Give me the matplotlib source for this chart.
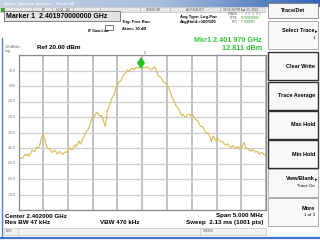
import matplotlib
matplotlib.use('Agg')
import matplotlib.pyplot as plt
import numpy as np
from matplotlib.patches import Rectangle
from matplotlib.transforms import offset_copy
from matplotlib.colors import LinearSegmentedColormap

# ---------------- data ----------------
center_ghz = 2.402
span_mhz = 5.0
ref_dbm = 20.0
db_per_div = 10.0
n_div = 10
trace_dbm = [
    -47.5, -46.2, -46.5, -46.8, -45.5, -44.2, -44.8, -43.8, -45.2, -44.6,
    -43.0, -41.5, -41.8, -42.6, -40.5, -39.2, -40.0, -38.8, -35.0, -32.5,
    -31.0, -33.8, -37.0, -39.5, -40.5, -40.2, -41.5, -42.8, -42.5, -41.5,
    -42.0, -43.8, -43.5, -42.2, -42.8, -43.9, -44.0, -42.8, -42.5, -42.9,
    -41.5, -40.2, -40.0, -41.2, -40.5, -38.6, -38.0, -38.9, -36.8, -35.6,
    -37.5, -36.0, -33.5, -32.8, -31.0, -29.0, -28.5, -27.0, -24.0, -21.5,
    -20.5, -20.0, -18.5, -17.0, -17.5, -18.8, -19.5, -19.0, -20.5, -23.5,
    -26.0, -21.0, -15.0, -13.8, -11.5, -8.5, -7.0, -5.8, -3.5, -0.8,
    0.5, 2.4, 3.0, 3.8, 5.5, 7.2, 8.0, 8.6, 10.5, 9.6,
    10.0, 11.2, 11.5, 10.6, 11.0, 11.9, 11.8, 11.5, 12.3, 12.81,
    12.2, 11.6, 12.0, 11.8, 12.4, 11.6, 11.2, 10.5, 11.0, 11.3,
    12.5, 10.6, 8.5, 6.4, 6.0, 5.5, 4.0, 2.6, 2.0, 1.6,
    0.5, -0.8, -2.5, -4.6, -7.5, -8.2, -10.0, -12.4, -13.5, -14.2,
    -16.0, -17.8, -19.0, -18.2, -19.5, -20.3, -19.0, -18.2, -18.0, -19.2,
    -18.5, -19.0, -20.5, -21.6, -22.0, -22.6, -24.5, -25.8, -26.0, -26.4,
    -28.0, -29.8, -30.5, -30.2, -31.5, -33.5, -36.0, -32.2, -33.0, -35.0,
    -35.5, -33.8, -34.5, -35.8, -36.0, -35.9, -37.0, -37.8, -38.0, -37.2,
    -38.5, -39.4, -39.5, -38.5, -39.0, -39.8, -40.0, -39.0, -39.5, -40.6,
    -40.0, -39.0, -36.5, -38.0, -40.5, -40.0, -41.0, -41.8, -42.0, -41.0,
    -41.5, -42.6, -42.5, -42.2, -43.5, -43.8, -43.0, -42.8, -44.0, -44.8,
    -44.5]
marker_freq_ghz = 2.40197
marker_dbm = 12.811
y_tick_values = [10, 0, -10, -20, -30, -40, -50, -60, -70]
y_tick_labels = ['10.0', '0.00', '-10.0', '-20.0', '-30.0', '-40.0', '-50.0', '-60.0', '-70.0']
softkeys = [('Select Trace', '1'), ('Clear Write', ''), ('Trace Average', ''),
            ('Max Hold', ''), ('Min Hold', ''), ('View/Blank', 'Trace On'), ('More', '1 of 3')]

FONT = ['Liberation Sans', 'DejaVu Sans']
plt.rcParams['font.family'] = FONT

W, H = 320, 240
fig = plt.figure(figsize=(W / 100, H / 100), dpi=100)
fig.patch.set_facecolor('white')

bg = fig.add_axes([0, 0, 1, 1])
bg.axis('off')

def T(x, y, s, size=3.2, color='black', weight='normal', ha='left', va='center'):
    bg.text(x, y, s, fontsize=size, color=color, fontweight=weight, ha=ha, va=va)

# title bar with gradient
grad = np.linspace(0, 1, 256).reshape(1, -1)
cmap = LinearSegmentedColormap.from_list('tb', ['#c4d2e6', '#aabfdc', '#2f63b5'])
bg.imshow(grad, extent=[0, W, 7, 0], cmap=cmap, aspect='auto', zorder=0)
bg.set_xlim(0, W)
bg.set_ylim(H, 0)
T(4, 3.6, 'Agilent Spectrum Analyzer - Swept SA', size=3.0, color='white')

# toolbar row
bg.add_patch(Rectangle((0, 7), 265, 5, facecolor='#e6e6e6', edgecolor='#b0b0b0', lw=0.4))
bg.add_patch(Rectangle((1, 7.5), 4, 4, facecolor='#3aa635', edgecolor='none'))
for xs in [32, 52, 62, 73, 100, 140, 170, 220]:
    bg.plot([xs, xs], [7, 12], color='#a0a0a0', lw=0.4)
T(42, 9.6, 'RF', size=2.2, color='#555555')
T(56, 9.6, '50 Ω', size=2.2, color='#555555')
T(66, 9.6, 'AC', size=2.2, color='#555555')
T(146, 9.6, 'SENSE:INT', size=2.2, color='#555555')
T(186, 9.6, 'ALIGN AUTO', size=2.2, color='#555555')
T(223, 9.6, '08:56:36 PM Apr 25, 2024', size=2.2, color='#555555')

# marker box
bg.add_patch(Rectangle((4, 11), 116, 10, facecolor='#e4e4e4', edgecolor='#707070', lw=0.6))
T(6, 16.2, 'Marker 1  2.401970000000 GHz', size=5.0, weight='bold')
bg.add_patch(Rectangle((105, 25), 8, 5, facecolor='white', edgecolor='#404040', lw=0.5))
T(122, 22.5, 'Trig: Free Run', size=3.0, weight='bold')
T(122, 29, 'Atten: 30 dB', size=3.0, weight='bold')
T(88, 31, 'IF Gain:Low', size=2.6, weight='bold')
T(180, 17, 'Avg Type: Log-Pwr', size=3.0, weight='bold')
T(180, 22, 'Avg|Hold:>100/100', size=3.0, weight='bold')

# trace status block
T(238, 14, 'TRACE', size=2.2, color='#555555', ha='right')
tcols = ['#d8c040', '#30b0d0', '#d040c0', '#40b040', '#3060d0', '#e08030']
for k, c in enumerate(tcols):
    T(241 + k * 3.6, 14, str(k + 1), size=2.3, color=c)
T(238, 18, 'TYPE', size=2.2, color='#555555', ha='right')
T(241, 18, 'M WWWWW', size=2.2, color='#40a040')
T(238, 22, 'DET', size=2.2, color='#555555', ha='right')
T(241, 22, 'P NNNNN', size=2.2, color='#40a040')

# marker readout
T(262, 40, 'Mkr1 2.401 970 GHz', size=5.2, color='#2ec82e', weight='bold', ha='right')
T(262, 48, '12.811 dBm', size=5.2, color='#2ec82e', weight='bold', ha='right')

T(5, 47, '10 dB/div', size=2.6, color='#606060')
T(5, 51, 'Log', size=2.6, color='#606060')
T(37, 47.5, 'Ref 20.00 dBm', size=4.6, weight='bold')

# left blue line and bottom bar
bg.plot([2, 2], [38, 237], color='#4a7fd4', lw=1.0)
bg.plot([0, W], [237.5, 237.5], color='#3f74cc', lw=1.6)

# bottom text
T(5, 216, 'Center 2.402000 GHz', size=4.5, weight='bold')
T(5, 222.8, 'Res BW 47 kHz', size=4.5, weight='bold')
T(100, 222.8, 'VBW 470 kHz', size=4.5, weight='bold')
T(263, 216, 'Span 5.000 MHz', size=4.5, weight='bold', ha='right')
T(263, 222.8, 'Sweep  2.13 ms (1001 pts)', size=4.5, weight='bold', ha='right')

# status bar
bg.add_patch(Rectangle((4, 228), 262, 7, facecolor='#f2f2f2', edgecolor='#b8b8b8', lw=0.4))
bg.plot([18, 18], [228, 235], color='#b8b8b8', lw=0.4)
bg.plot([200, 200], [228, 235], color='#b8b8b8', lw=0.4)
T(6, 231.5, 'MSG', size=2.2, color='#555555')
T(203, 231.5, 'STATUS', size=2.2, color='#555555')

# softkey panel
bg.add_patch(Rectangle((268, 3), 50, 15, facecolor='#f6f6f6', edgecolor='#808080', lw=0.6))
T(293, 10.5, 'Trace/Det', size=3.8, weight='bold', ha='center')
box_tops = [21, 52, 82, 111, 140, 169, 198]
for k, ((lab, sub), top) in enumerate(zip(softkeys, box_tops)):
    dark = 1 <= k <= 4
    bg.add_patch(Rectangle((268, top), 50, 27.5, facecolor='#f8f8f8',
                           edgecolor='#303030' if dark else '#a0a0a0', lw=1.0 if dark else 0.6))
    if sub:
        T(315, top + 10, lab, size=4.0, weight='bold', ha='right')
        T(315, top + 17, sub, size=3.2, ha='right')
    else:
        T(315, top + 14, lab, size=4.0, weight='bold', ha='right')
    if lab in ('Select Trace', 'View/Blank'):
        T(317, top + 11, '▸', size=3.5, ha='right', color='black')

# ---------------- plot axes ----------------
left_px, right_px, top_px, bot_px = 18.5, 266.0, 55.0, 210.0
ax = fig.add_axes([left_px / W, 1 - bot_px / H, (right_px - left_px) / W, (bot_px - top_px) / H])
f0 = center_ghz - span_mhz / 2000
f1 = center_ghz + span_mhz / 2000
freqs = np.linspace(f0, f1, len(trace_dbm))
ymin = ref_dbm - n_div * db_per_div
ax.set_xlim(f0, f1)
ax.set_ylim(ymin, ref_dbm)
ax.set_facecolor('white')
ax.set_xticks(np.linspace(f0, f1, n_div + 1))
ax.set_yticks(np.arange(ymin, ref_dbm + 1, db_per_div))
ax.tick_params(length=0, labelbottom=False, labelleft=False)
ax.grid(True, axis='x', color='#bdbdbd', lw=1.3)
ax.grid(True, axis='y', color='#cfcfcf', lw=0.9)
for s in ax.spines.values():
    s.set_color('#8a8a8a')
    s.set_linewidth(0.9)
ax.plot(freqs, trace_dbm, color='#dcb955', lw=0.8)
tr = offset_copy(ax.transData, fig=fig, x=0, y=3.5, units='dots')
ax.plot([marker_freq_ghz], [marker_dbm], marker='d', color='#22c022', markersize=6.5,
        markeredgewidth=0, transform=tr, clip_on=False)
ax.text(marker_freq_ghz + 0.00007, ref_dbm + 1.0, '1', fontsize=2.6, color='#404040',
        ha='left', va='center', clip_on=False)

for v, lab in zip(y_tick_values, y_tick_labels):
    ypx = top_px + (ref_dbm - v) / (n_div * db_per_div) * (bot_px - top_px)
    T(16, ypx, lab, size=2.5, color='#707070', ha='right')

fig.savefig('out.png', dpi=100)
